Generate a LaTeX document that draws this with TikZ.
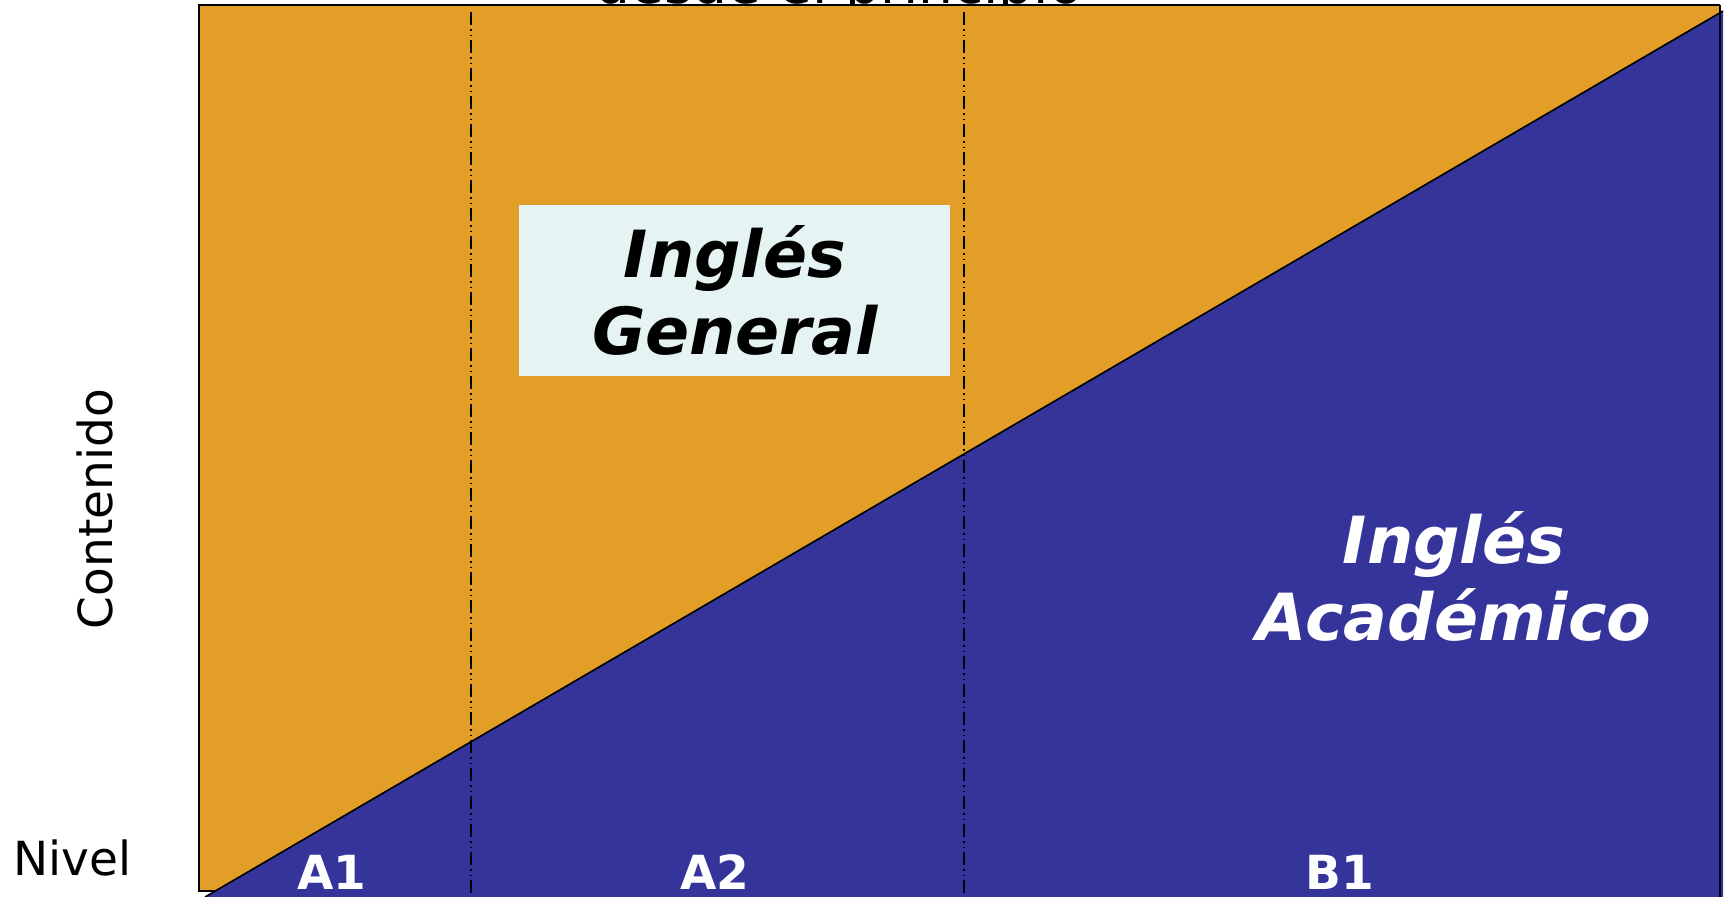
\documentclass[tikz,border=0pt]{standalone}
\usepackage{fontspec}
\setmainfont{DejaVu Sans}
\definecolor{orangefill}{HTML}{E29E26}
\definecolor{bluefill}{HTML}{34349A}
\definecolor{boxfill}{HTML}{E6F3F3}
\tikzset{%
    level/.style={text=white, anchor=base, font=\fontsize{47}{56}\selectfont\bfseries},
    bigtitle/.style={anchor=base, font=\fontsize{65}{75}\selectfont\bfseries\itshape},
    axislabel/.style={font=\fontsize{47}{56}\selectfont},
    dashdot line/.style={line width=1.3pt,
        dash pattern=on 13pt off 4pt on 1.5pt off 4pt on 1.5pt off 4pt}
}

\begin{document}
\begin{tikzpicture}[x=1pt,y=-1pt]
    \useasboundingbox (0,0) rectangle (1725,897);
    \node[anchor=base, font=\fontsize{55}{66}\selectfont] (principio) at (839,3) {desde el principio};
    \fill[orangefill] (199,5) rectangle (1720,891);
    \draw[line width=2pt] (1720,5) -- (199,5) -- (199,891) -- (1720,891);
    \fill[bluefill] (205,897) -- (1723,11) -- (1723,897) -- cycle;
    \draw[line width=1.6pt] (205,897) -- (1723,11);
    \draw[line width=2pt] (1720,5) -- (1720,897);
    \foreach \x in {471,964}
    {
    \draw[dashdot line] (\x,12) -- (\x,897);
    }
    \node[fill=boxfill, minimum width=431pt, minimum height=171pt] (generalbox) at (734.5,290.5) {};
    \node[bigtitle] (ingles) at (735,277) {Inglés};
    \node[bigtitle] (general) at (735,354) {General};
    \node[bigtitle, text=white] (ingles2) at (1454,563) {Inglés};
    \node[bigtitle, text=white] (academico) at (1454,640) {Académico};
    \node[axislabel, rotate=90] (contenido) at (95,509) {Contenido};
    \node[axislabel, anchor=base west] (nivel) at (10,875) {Nivel};
    \node[level] (a1) at (332,889) {A1};
    \node[level] (a2) at (715,889) {A2};
    \node[level] (b1) at (1340,889) {B1};
\end{tikzpicture}
\end{document}
